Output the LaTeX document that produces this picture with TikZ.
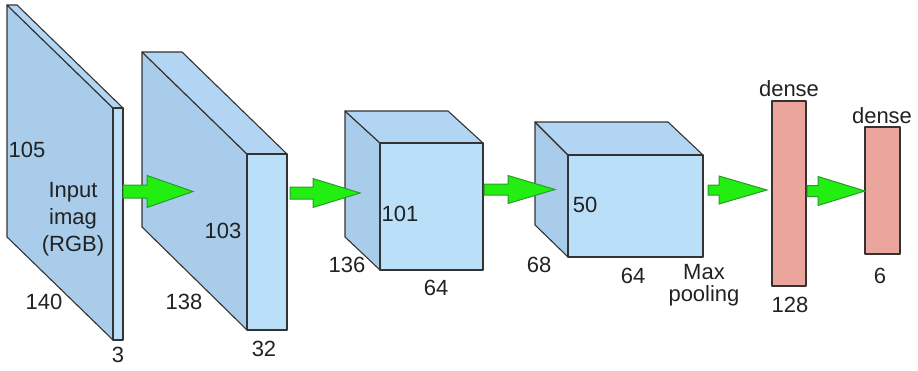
\documentclass[tikz,border=0pt]{standalone}
\usepackage{fontspec}
\setmainfont{Liberation Sans}
\begin{document}
\definecolor{frontc}{HTML}{BADFF9}
\definecolor{sidec}{HTML}{A8CCEA}
\definecolor{topc}{HTML}{B1D5F2}
\definecolor{densec}{HTML}{EBA59C}
\definecolor{arrowc}{HTML}{22EE11}
\definecolor{arrowline}{HTML}{2A9A2A}
\definecolor{edgec}{HTML}{333333}
\definecolor{txt}{HTML}{222222}
\begin{tikzpicture}[x=1pt,y=-1pt,
  edge/.style={draw=edgec,line width=1.1pt,line join=round},
  frontface/.style={edge,fill=frontc},
  sideface/.style={edge,fill=sidec},
  topface/.style={edge,fill=topc},
  densebox/.style={edge,fill=densec},
  flow/.style={draw=arrowline,line width=1pt,fill=arrowc,line join=miter},
  lbl/.style={text=txt,font=\fontsize{22}{27}\selectfont,inner sep=0pt,align=center}]
\useasboundingbox (0,0) rectangle (918,370);

% ---------- input slab ----------
\coordinate (in-bl) at (7,5);  \coordinate (in-br) at (17,5);
\coordinate (in-fl) at (113,108); \coordinate (in-fr) at (123,108);
\coordinate (in-fbl) at (113,340); \coordinate (in-fbr) at (123,340);
\coordinate (in-bbl) at (7,237);
\path[sideface] (in-bl) -- (in-fl) -- (in-fbl) -- (in-bbl) -- cycle;
\path[topface] (in-bl) -- (in-br) -- (in-fr) -- (in-fl) -- cycle;
\path[frontface] (in-fl) rectangle (in-fbr);

% ---------- convolution slab ----------
\coordinate (c1-bl) at (142,52);  \coordinate (c1-br) at (182,52);
\coordinate (c1-fl) at (247,154); \coordinate (c1-fr) at (287,154);
\coordinate (c1-fbl) at (247,330); \coordinate (c1-fbr) at (287,330);
\coordinate (c1-bbl) at (142,227);
\path[sideface] (c1-bl) -- (c1-fl) -- (c1-fbl) -- (c1-bbl) -- cycle;
\path[topface] (c1-bl) -- (c1-br) -- (c1-fr) -- (c1-fl) -- cycle;
\path[frontface] (c1-fl) rectangle (c1-fbr);

% ---------- first cube ----------
\coordinate (c2-bl) at (345,111); \coordinate (c2-br) at (448,111);
\coordinate (c2-fl) at (380,143); \coordinate (c2-fr) at (483,143);
\coordinate (c2-fbl) at (380,270); \coordinate (c2-fbr) at (483,270);
\coordinate (c2-bbl) at (345,237);
\path[sideface] (c2-bl) -- (c2-fl) -- (c2-fbl) -- (c2-bbl) -- cycle;
\path[topface] (c2-bl) -- (c2-br) -- (c2-fr) -- (c2-fl) -- cycle;
\path[frontface] (c2-fl) rectangle (c2-fbr);

% ---------- second cube ----------
\coordinate (c3-bl) at (535,122); \coordinate (c3-br) at (668,122);
\coordinate (c3-fl) at (568,155); \coordinate (c3-fr) at (703,155);
\coordinate (c3-fbl) at (568,257); \coordinate (c3-fbr) at (703,257);
\coordinate (c3-bbl) at (535,225);
\path[sideface] (c3-bl) -- (c3-fl) -- (c3-fbl) -- (c3-bbl) -- cycle;
\path[topface] (c3-bl) -- (c3-br) -- (c3-fr) -- (c3-fl) -- cycle;
\path[frontface] (c3-fl) rectangle (c3-fbr);

% ---------- dense layers ----------
\path[densebox] (772,101) rectangle (806,286);
\path[densebox] (865,127) rectangle (900,254);

% ---------- flow arrows (shaft x0..x1, head x1..tip, centre y) ----------
\newcommand{\flowarrow}[6]{% x0, x1, tip, y, half shaft, half head
  \path[flow] (#1,#4-#5) -- (#2,#4-#5) -- (#2,#4-#6) -- (#3,#4) --
    (#2,#4+#6) -- (#2,#4+#5) -- (#1,#4+#5) -- cycle;}
\flowarrow{123}{147}{193}{191.5}{6.5}{16}
\flowarrow{290}{313}{360}{193}{6}{14.5}
\flowarrow{484}{508}{555}{189.5}{5.5}{14}
\flowarrow{708}{719}{767}{190}{5}{14}
\flowarrow{807}{818}{865}{191}{5.5}{14.5}

% ---------- labels ----------
\node[lbl] (l105) at (27,150) {105};
\node[lbl,anchor=north] (lin) at (73,182) {Input\\imag\\(RGB)};
\node[lbl] (l140) at (44,302) {140};
\node[lbl] (l3) at (118,355) {3};
\node[lbl] (l138) at (184,302) {138};
\node[lbl] (l103) at (223,231) {103};
\node[lbl] (l32) at (264,349) {32};
\node[lbl] (l101) at (400,214) {101};
\node[lbl] (l136) at (347,265) {136};
\node[lbl] (l64a) at (436,288) {64};
\node[lbl] (l50) at (585,205) {50};
\node[lbl] (l68) at (539,265) {68};
\node[lbl] (l64b) at (633,276) {64};
\node[lbl,anchor=north,font=\fontsize{22}{22}\selectfont] (lmax) at (704,264) {Max\\pooling};
\node[lbl] (l128) at (790,305) {128};
\node[lbl] (l6) at (880,276) {6};
\node[lbl] (ld1) at (789,89) {dense};
\node[lbl] (ld2) at (882,116) {dense};
\end{tikzpicture}
\end{document}
